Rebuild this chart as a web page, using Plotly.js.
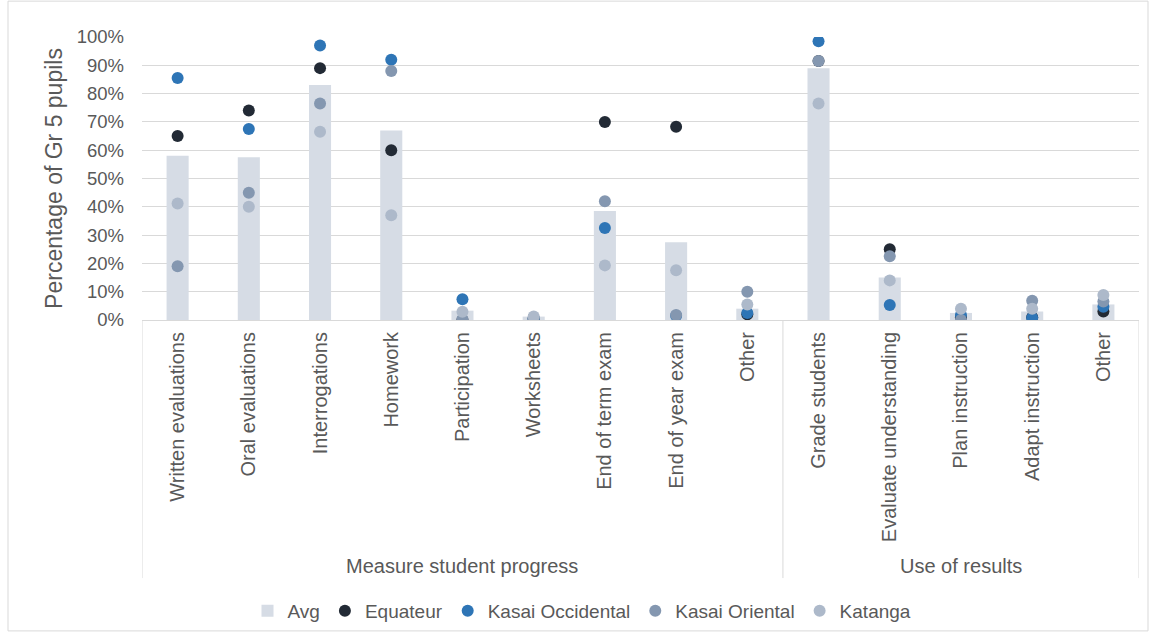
<!DOCTYPE html>
<html>
<head>
<meta charset="utf-8">
<script src="https://cdn.plot.ly/plotly-3.0.1.min.js"></script>
<style>
  html, body { margin: 0; padding: 0; background: #ffffff; }
  #chart { width: 1156px; height: 640px; }
</style>
</head>
<body>
<div id="chart"></div>
<script>
// ---- Data ----
const categories = [
  "Written evaluations", "Oral evaluations", "Interrogations", "Homework",
  "Participation", "Worksheets", "End of term exam", "End of year exam", "Other",
  "Grade students", "Evaluate understanding", "Plan instruction", "Adapt instruction", "Other"
];
const groups = [
  "Measure student progress", "Measure student progress", "Measure student progress",
  "Measure student progress", "Measure student progress", "Measure student progress",
  "Measure student progress", "Measure student progress", "Measure student progress",
  "Use of results", "Use of results", "Use of results", "Use of results", "Use of results"
];
const avg       = [58, 57.5, 83, 67, 3.3, 1.2, 38.5, 27.5, 4, 89, 15, 2.5, 3, 5.5];
const equateur  = [65, 74, 89, 60, 0, 0.5, 70, 68.3, 2, 91.5, 25, 1, 1, 3];
const kasaiOcc  = [85.5, 67.5, 97, 92, 7.3, 0.5, 32.5, 1.5, 2.5, 98.5, 5.3, 1.8, 0.8, 4.7];
const kasaiOr   = [19, 45, 76.5, 88, 0.3, 0.7, 42, 1.8, 10, 91.5, 22.5, 0, 6.8, 6.5];
const katanga   = [41.2, 40, 66.5, 37, 2.9, 1.2, 19.3, 17.6, 5.5, 76.5, 14, 4, 4, 8.8];
const yTickVals = [0, 10, 20, 30, 40, 50, 60, 70, 80, 90, 100];
const yTickText = ["0%", "10%", "20%", "30%", "40%", "50%", "60%", "70%", "80%", "90%", "100%"];

// ---- Derived positions ----
const xIdx = categories.map((_, i) => i);
const groupNames = [...new Set(groups)];
const groupCenters = groupNames.map(g => {
  const idx = xIdx.filter(i => groups[i] === g);
  return (idx[0] + idx[idx.length - 1]) / 2;
});
const groupEdges = [-0.5];
groupNames.forEach(g => {
  const idx = xIdx.filter(i => groups[i] === g);
  groupEdges.push(idx[idx.length - 1] + 0.5);
});

const font = "Liberation Sans, Arial, sans-serif";
const txt = "#595959";
const grid = "#d9d9d9";

function dots(name, vals, color) {
  return {
    type: "scatter", mode: "markers", name: name,
    x: xIdx, y: vals,
    marker: { color: color, size: 12, line: { width: 0 } },
    hoverinfo: "skip"
  };
}

const traces = [
  { type: "bar", name: "Avg", x: xIdx, y: avg, width: 0.31,
    marker: { color: "#d6dce5", line: { width: 0 } }, hoverinfo: "skip" },
  dots("Equateur", equateur, "#222a35"),
  dots("Kasai Occidental", kasaiOcc, "#2e75b6"),
  dots("Kasai Oriental", kasaiOr, "#8497b0"),
  dots("Katanga", katanga, "#adb9ca")
];

// plot area: x 142..1139, y 37..321
const plotH = 284;
const pyOf = px => (321 - px) / plotH;
const pxOf = px => (px - 142) / 997;

const shapes = groupEdges.map(e => ({
  type: "line", xref: "x", yref: "paper",
  x0: e, x1: e, y0: 0, y1: pyOf(580),
  line: { color: grid, width: 1 }
}));
shapes.push({
  type: "rect", xref: "paper", yref: "paper",
  x0: pxOf(8), x1: pxOf(1148), y0: pyOf(633), y1: pyOf(1),
  line: { color: grid, width: 1 }, fillcolor: "rgba(0,0,0,0)", layer: "below"
});

const annotations = groupNames.map((g, k) => ({
  xref: "x", yref: "paper", x: groupCenters[k], y: pyOf(568),
  text: g, showarrow: false, xanchor: "center", yanchor: "middle",
  font: { family: font, size: 20, color: txt }
}));

const layout = {
  width: 1156, height: 640,
  margin: { l: 142, r: 17, t: 37, b: 319 },
  paper_bgcolor: "#ffffff", plot_bgcolor: "#ffffff",
  font: { family: font, color: txt },
  barmode: "overlay",
  showlegend: true,
  legend: {
    orientation: "h", xref: "paper", yref: "paper",
    x: pxOf(582), xanchor: "center", y: pyOf(611), yanchor: "middle",
    font: { family: font, size: 19, color: txt },
    itemsizing: "constant", traceorder: "normal", itemgap: 2
  },
  xaxis: {
    type: "linear", range: [-0.5, 13.5],
    tickmode: "array", tickvals: xIdx, ticktext: categories,
    tickangle: -90, ticks: "", showgrid: false, zeroline: false,
    showline: true, linecolor: grid, linewidth: 1,
    tickfont: { family: font, size: 20, color: txt },
    ticklabelstandoff: 3,
    fixedrange: true
  },
  yaxis: {
    range: [0, 100], tickmode: "array", tickvals: yTickVals, ticktext: yTickText,
    showgrid: true, gridcolor: grid, gridwidth: 1, zeroline: false,
    showline: false, ticks: "",
    tickfont: { family: font, size: 18.5, color: txt },
    ticklabelstandoff: 17,
    title: { text: "Percentage of Gr 5 pupils", standoff: 7,
             font: { family: font, size: 23, color: txt } },
    fixedrange: true
  },
  shapes: shapes,
  annotations: annotations
};

Plotly.newPlot("chart", traces, layout, { displayModeBar: false, staticPlot: true });
</script>
</body>
</html>
